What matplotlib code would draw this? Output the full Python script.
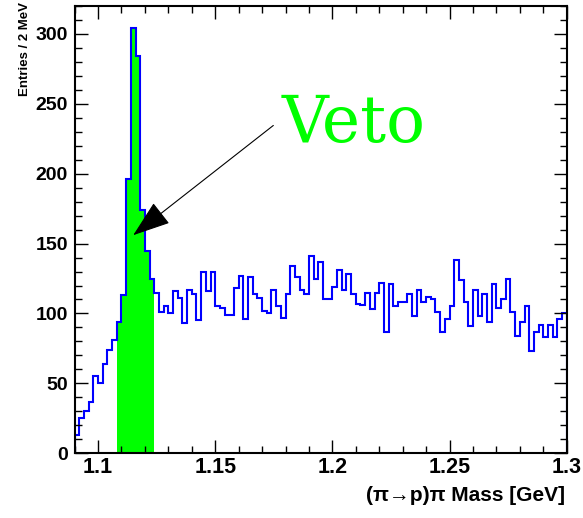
import numpy as np
import matplotlib.pyplot as plt
from matplotlib.ticker import MultipleLocator

plt.rcParams['font.family'] = ['Liberation Sans', 'DejaVu Sans']
plt.rcParams['font.weight'] = 'bold'

# entries per 2 MeV bin, 1.09 - 1.30 GeV
counts = [13, 25, 30, 37, 55, 50, 64, 74, 81, 94, 113, 196, 304, 284, 174, 145, 125,
          115, 101, 105, 100, 116, 111, 93, 117, 114, 95, 130, 116, 130, 105, 104, 99, 99,
          118, 127, 96, 126, 114, 111, 102, 100, 117, 105, 97, 114, 134, 126, 117, 114, 141,
          125, 137, 110, 110, 119, 131, 117, 128, 114, 107, 106, 115, 103, 115, 122, 87, 121,
          105, 108, 108, 114, 98, 117, 108, 112, 110, 101, 87, 96, 105, 138, 124, 108, 91,
          117, 98, 114, 94, 121, 104, 110, 125, 101, 84, 94, 105, 73, 87, 92, 83, 92, 83, 96, 100]
edges = np.linspace(1.09, 1.30, len(counts) + 1)

# bins removed by the lambda veto
veto_lo, veto_hi = 9, 17

fig = plt.figure(figsize=(5.83, 5.18), dpi=100)
ax = fig.add_axes([0.128, 0.125, 0.844, 0.8635])

ax.stairs(counts[veto_lo:veto_hi], edges[veto_lo:veto_hi + 1], fill=True,
          color='#00ff00', lw=0)
ax.stairs(counts, edges, color='#0000ff', lw=1.5)

ax.annotate('', xy=(1.1150, 156), xytext=(1.1748, 234.5),
            arrowprops=dict(arrowstyle='-|>,head_length=1.2,head_width=0.42',
                            mutation_scale=20, color='black', lw=0.8,
                            shrinkA=0, shrinkB=0))
ax.text(1.1785, 223, 'Veto', color='#00ff00', fontsize=46.5,
        family='DejaVu Serif', fontweight='normal')

ax.set_xlim(1.09, 1.30)
ax.set_ylim(0, 320)
ax.xaxis.set_major_locator(MultipleLocator(0.05))
ax.xaxis.set_minor_locator(MultipleLocator(0.01))
ax.yaxis.set_major_locator(MultipleLocator(50))
ax.yaxis.set_minor_locator(MultipleLocator(10))
ax.xaxis.set_major_formatter(plt.FuncFormatter(lambda v, p: f'{v:g}'))

ax.tick_params(which='both', direction='in', top=True, right=True, width=1)
ax.tick_params(which='major', length=9.4)
ax.tick_params(which='minor', length=4.7)
ax.tick_params(axis='y', labelsize=14, pad=4.8)
ax.tick_params(axis='x', labelsize=15.5, pad=2.5)
for s in ax.spines.values():
    s.set_linewidth(1.5)

ax.set_ylabel('Entries / 2 MeV', fontsize=9.5, fontweight='bold', loc='top')
ax.yaxis.set_label_coords(-0.088, 1.008)
ax.set_xlabel('(π→p)π Mass [GeV]', fontsize=15, fontweight='bold', loc='right')
ax.xaxis.set_label_coords(0.997, -0.073)

fig.savefig('out.png', dpi=100)
